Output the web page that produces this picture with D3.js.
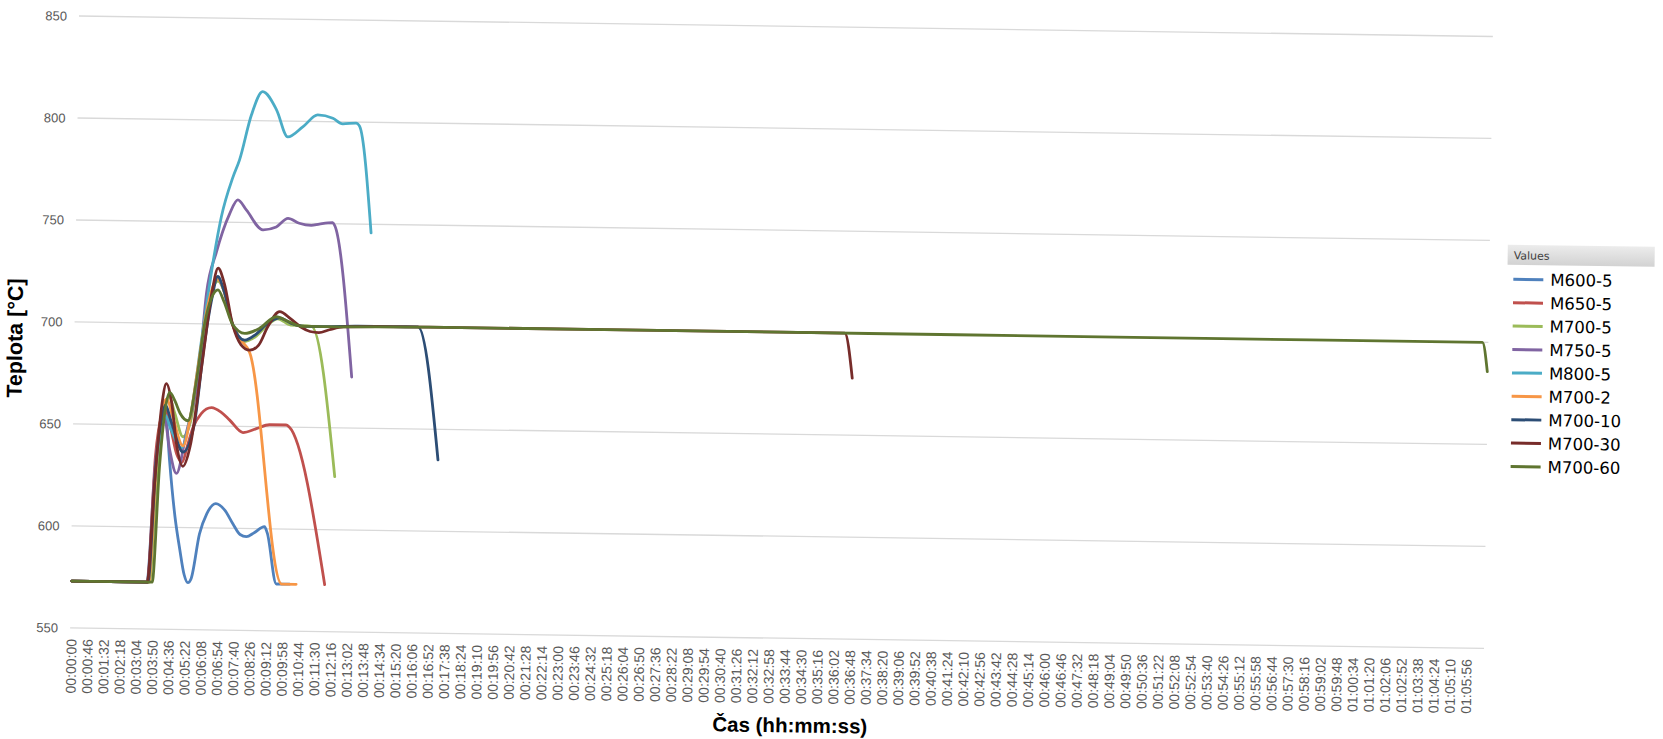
<!DOCTYPE html>
<html>
<head>
<meta charset="utf-8">
<script src="https://cdn.jsdelivr.net/npm/d3@7"></script>
<style>body{margin:0;background:#fff;overflow:hidden}</style>
</head>
<body>
<svg id="chart" width="1663" height="739"></svg>
<script>
// ---- data (time in seconds, temperature in °C) ----
const seriesNames = ["M600-5","M650-5","M700-5","M750-5","M800-5","M700-2","M700-10","M700-30","M700-60"];
const seriesColors = ["#4F81BD","#C0504D","#9BBB59","#8064A2","#4BACC6","#F79646","#2C4D75","#772C2A","#5F7530"];

const tM600_5 = [0,213,230,245,252,262,272,290,305,318,329,338,360,380,405,430,455,475,493,515,544,552,580,617];
const vM600_5 = [573,573,625,652,657,652,633,605,589,577,573,575,597,607,612,609,602,597,596,598,601,598,573,573];

const tM650_5 = [0,214,232,248,256,272,292,308,322,337,360,389,415,441,479,517,554,601,610,717];
const vM650_5 = [573,573,635,655,658,650,636,632,640,649,656,659,657,653,647,649,651,651,650,573];

const tM700_5 = [0,220,238,255,268,285,309,330,350,366,385,402,420,445,475,510,545,573,610,669,741];
const vM700_5 = [573,573,630,658,664,656,644.5,652,675,700,716,721,716,700,691.5,694,700,703,700,699.5,626];

const tM750_5 = [0,215,232,246,255,272,292,318,353,370,396,432,455,480,527,565,598,630,664,687,725,731,785];
const vM750_5 = [573,573,630,650,654,638,626.5,646,679,715,735,754,761,756,746.5,748,752.3,750,749,749.7,750.5,749,675];

const tM800_5 = [0,216,234,250,258,275,305,330,360,387,409,440,458,490,521,561,594,637,678,721,749,787,797,834];
const vM800_5 = [573,573,630,650,655,648,639,655,695,730,752.6,772,780.5,802.7,814.2,805.4,792.2,797.4,803.2,801.7,799,799.5,798,745.8];

const tM700_2 = [0,218,236,252,262,278,310,330,350,370,400,420,437,466,495,595,636];
const vM700_2 = [573,573,635,660,663,655,640,655,680,705,722,716,703.6,693.2,686.2,573,573];

const tM700_10 = [0,216,234,250,258,275,310,340,366,385,401,420,445,480,510,540,578,610,650,700,800,900,971,1033];
const vM700_10 = [573,573,632,655,660,652,637,650,690,712,723.3,716,700,692.3,695,700,703.5,701,699.5,699.5,700,700,700,635];

const tM700_30 = [0,214,230,248,260,275,292,310,330,360,385,402,420,445,470,495,520,545,578,610,640,665,690,720,760,1000,1500,2000,2181,2204];
const vM700_30 = [573,573,620,660,670.4,662,640,630,640,680,715,727.4,720,700,690,687.4,690,699,706.5,703,699,697,696.5,698,699.5,700,700,700,700,678];

const tM700_60 = [0,228,244,258,270,285,300,323,345,366,385,402.5,420,445,480,520,569,600,640,700,1000,1500,2000,2500,3000,3500,3989,4004];
const vM700_60 = [573,573,630,658,666.2,662,656,652.4,672,700,713,716.7,711,700,695.6,698,704,702,699.5,699.5,700,700,700,700,700,700,700,685.7];

const yTickValues = [550,600,650,700,750,800,850];
const xTickStep = 46;      // seconds between category labels
const xTickLast = 3956;    // 01:05:56
const yTitle = "Teplota [°C]";
const xTitle = "Čas (hh:mm:ss)";
const legendTitle = "Values";

// ---- build ----
const timeArrays = [tM600_5,tM650_5,tM700_5,tM750_5,tM800_5,tM700_2,tM700_10,tM700_30,tM700_60];
const valueArrays = [vM600_5,vM650_5,vM700_5,vM750_5,vM800_5,vM700_2,vM700_10,vM700_30,vM700_60];
const data = seriesNames.map((n,i)=>({name:n,color:seriesColors[i],pts:timeArrays[i].map((t,j)=>[t,valueArrays[i][j]])}));

const svg = d3.select("#chart");
const defs = svg.append("defs");
const grad = defs.append("linearGradient").attr("id","hdr").attr("x1",0).attr("y1",0).attr("x2",0).attr("y2",1);
grad.append("stop").attr("offset","0%").attr("stop-color","#ececec");
grad.append("stop").attr("offset","100%").attr("stop-color","#d2d2d2");

const root = svg.append("g").attr("transform","rotate(0.83 79 16)");

const x = d3.scaleLinear().domain([0,4006]).range([80,1493]);
const y = d3.scaleLinear().domain([550,850]).range([628,16]);

// gridlines
root.append("g").selectAll("line").data(yTickValues).join("line")
  .attr("x1",79).attr("x2",1493)
  .attr("y1",d=>y(d)).attr("y2",d=>y(d))
  .attr("stroke","#d9d9d9").attr("stroke-width",1.3);

// y axis
const ya = root.append("g").attr("transform","translate(79,0)")
  .call(d3.axisLeft(y).tickValues(yTickValues).tickSize(0).tickPadding(12));
ya.select(".domain").remove();
ya.selectAll("text").attr("font-family","'Liberation Sans', Arial, sans-serif")
  .attr("font-size",13).attr("fill","#595959");

// x axis
const pad = n => String(n).padStart(2,"0");
const fmt = s => pad(Math.floor(s/3600))+":"+pad(Math.floor(s%3600/60))+":"+pad(s%60);
const xTicks = d3.range(0, xTickLast+1, xTickStep);
const xa = root.append("g").attr("transform","translate(0,628)")
  .call(d3.axisBottom(x).tickValues(xTicks).tickFormat(fmt).tickSize(0));
xa.select(".domain").remove();
xa.selectAll("text")
  .attr("transform","rotate(-90)").attr("x",-11).attr("y",0).attr("dy","0.35em")
  .attr("text-anchor","end")
  .attr("font-family","'Liberation Sans', Arial, sans-serif")
  .attr("font-size",14).attr("fill","#595959");

// lines
const line = d3.line().x(d=>x(d[0])).y(d=>y(d[1])).curve(d3.curveMonotoneX);
root.append("g").selectAll("path").data(data).join("path")
  .attr("d",d=>line(d.pts)).attr("fill","none")
  .attr("stroke",d=>d.color).attr("stroke-width",2.8)
  .attr("stroke-linejoin","round").attr("stroke-linecap","round");

// titles
root.append("text").attr("transform","translate(27,339) rotate(-90)")
  .attr("text-anchor","middle").attr("font-family","'Liberation Sans', Arial, sans-serif")
  .attr("font-weight","bold").attr("font-size",21.5).attr("fill","#000").text(yTitle);
root.append("text").attr("x",800).attr("y",722)
  .attr("text-anchor","middle").attr("font-family","'Liberation Sans', Arial, sans-serif")
  .attr("font-weight","bold").attr("font-size",20.5).attr("fill","#000").text(xTitle);

// legend
const lg = root.append("g");
lg.append("rect").attr("x",1511).attr("y",224).attr("width",147).attr("height",20).attr("fill","url(#hdr)");
lg.append("text").attr("x",1517).attr("y",238.5).attr("font-family","'DejaVu Sans', Verdana, sans-serif")
  .attr("font-size",11).attr("fill","#404040").text(legendTitle);
const items = lg.selectAll("g.item").data(data).join("g").attr("class","item")
  .attr("transform",(d,i)=>`translate(1517,${258.5+i*23.4})`);
items.append("line").attr("x1",0).attr("x2",30).attr("y1",0).attr("y2",0)
  .attr("stroke",d=>d.color).attr("stroke-width",3);
items.append("text").attr("x",37).attr("y",0).attr("dy","0.36em")
  .attr("font-family","'DejaVu Sans', Verdana, sans-serif").attr("font-size",16.5)
  .attr("fill","#000").text(d=>d.name);
</script>
</body>
</html>
